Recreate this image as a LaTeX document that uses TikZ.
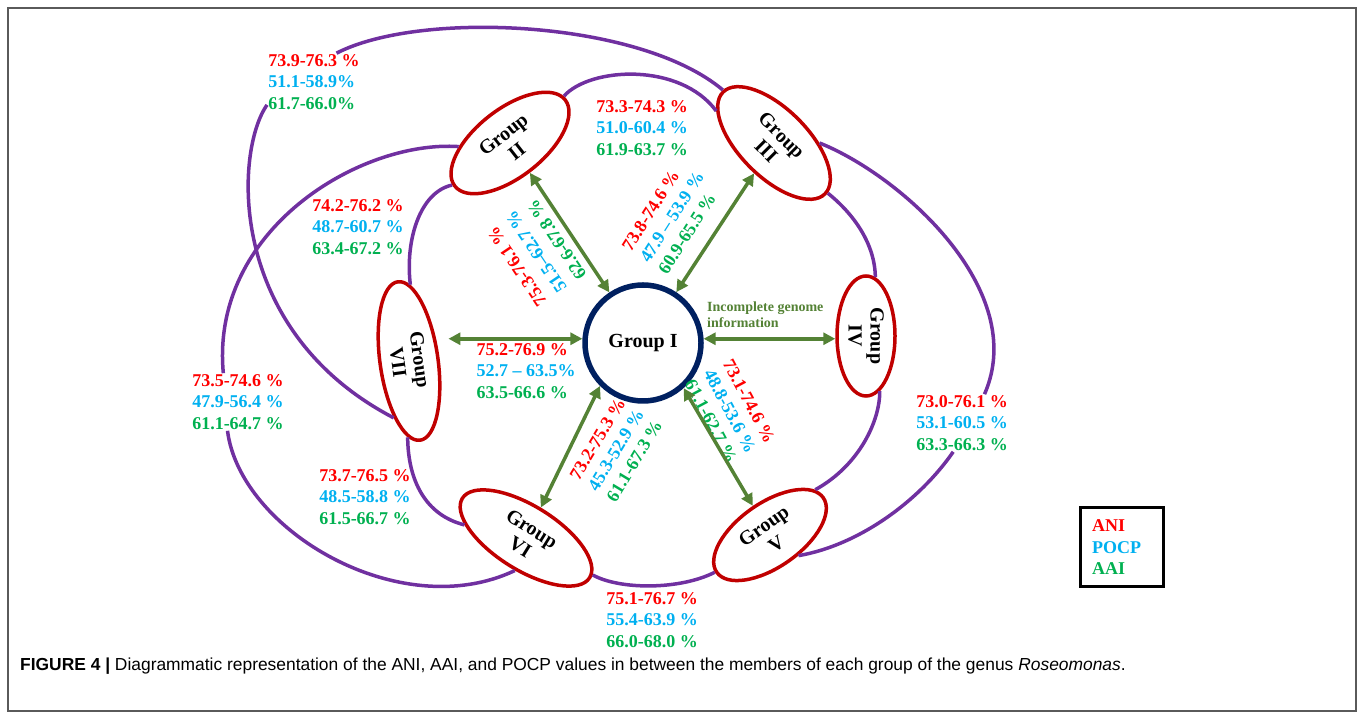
\documentclass[tikz,border=0pt]{standalone}
\usepackage{fontspec}
\setmainfont{Liberation Serif}
\newfontfamily\capfont{Liberation Sans}
\usetikzlibrary{shapes.geometric, arrows.meta}

\definecolor{aniColor}{RGB}{255,0,0}
\definecolor{pocpColor}{RGB}{0,176,240}
\definecolor{aaiColor}{RGB}{0,176,80}
\definecolor{linkColor}{RGB}{84,130,53}
\definecolor{groupColor}{RGB}{192,0,0}
\definecolor{arcColor}{RGB}{112,48,160}
\definecolor{centreColor}{RGB}{0,32,96}
\definecolor{frameColor}{RGB}{90,90,90}

\newcommand{\vals}[3]{\textcolor{aniColor}{#1}\\\textcolor{pocpColor}{#2}\\\textcolor{aaiColor}{#3}}

\tikzset{
  grp/.style={ellipse, draw=groupColor, line width=3.5pt, inner sep=1pt, align=center,
    font=\fontsize{20}{22}\selectfont\bfseries},
  valbox/.style={align=left, inner sep=1pt, font=\fontsize{18}{21.5}\selectfont\bfseries},
  greenlink/.style={draw=linkColor, line width=3.5pt,
    {Triangle[length=12pt,width=12pt]}-{Triangle[length=12pt,width=12pt]}},
  purplearc/.style={draw=arcColor, line width=3.5pt}
}

\begin{document}
\begin{tikzpicture}[x=1pt,y=1pt]
\path[use as bounding box] (0,0) rectangle (1358,712);
\draw[frameColor, line width=1.5pt] (8,1) rectangle (1356,704);

\node[circle, draw=centreColor, line width=5.5pt, minimum size=116pt, inner sep=0pt,
  font=\fontsize{20}{22}\selectfont\bfseries] (g1) at (643,369) {Group I};
\node[grp, rotate=38, minimum width=140pt, minimum height=68pt] (g2) at (510,569) {Group\\II};
\node[grp, rotate=-45, minimum width=144pt, minimum height=68pt] (g3) at (774,569) {Group\\III};
\node[grp, rotate=-90, minimum width=120pt, minimum height=58pt] (g4) at (866,376) {Group\\IV};
\node[grp, rotate=35, minimum width=130pt, minimum height=64pt] (g5) at (770,177) {Group\\V};
\node[grp, rotate=-32, minimum width=150pt, minimum height=64pt] (g6) at (526,174) {Group\\VI};
\node[grp, rotate=-82, minimum width=160pt, minimum height=58pt] (g7) at (409,351) {Group\\VII};

\node[valbox] (l23) at (642,584) {\vals{73.3-74.3 \%}{51.0-60.4 \%}{61.9-63.7 \%}};
\node[valbox] (l27) at (358,485) {\vals{74.2-76.2 \%}{48.7-60.7 \%}{63.4-67.2 \%}};
\node[valbox] (l37) at (314,630) {\vals{73.9-76.3 \%}{51.1-58.9\%}{61.7-66.0\%}};
\node[valbox] (l26) at (238,310) {\vals{73.5-74.6 \%}{47.9-56.4 \%}{61.1-64.7 \%}};
\node[valbox] (l67) at (365,215) {\vals{73.7-76.5 \%}{48.5-58.8 \%}{61.5-66.7 \%}};
\node[valbox] (l56) at (652,92) {\vals{75.1-76.7 \%}{55.4-63.9 \%}{66.0-68.0 \%}};
\node[valbox] (l35) at (962,289) {\vals{73.0-76.1 \%}{53.1-60.5 \%}{63.3-66.3 \%}};
\node[valbox] (l17) at (526,341) {\vals{75.2-76.9 \%}{52.7 -- 63.5\%}{63.5-66.6 \%}};
\node[valbox, rotate=124, font=\fontsize{18}{24}\selectfont\bfseries] (l12) at (536,460)
  {\vals{75.3-76.1 \%}{51.5--62.7 \%}{62.6-67.8 \%}};
\node[valbox, rotate=57.5] (l13) at (672,495) {\vals{73.8-74.6 \%}{47.9 -- 53.9 \%}{60.9-65.5 \%}};
\node[valbox, rotate=59] (l16) at (616,262) {\vals{73.2-75.3 \%}{45.3-52.9 \%}{61.1-67.3 \%}};
\node[valbox, rotate=-62] (l15) at (730,301) {\vals{73.1-74.6 \%}{48.8-53.6 \%}{61.1-62.7 \%}};

\node[anchor=west, align=left, inner sep=0pt, text=linkColor,
  font=\fontsize{14}{16}\selectfont\bfseries] (note) at (707,397) {Incomplete genome\\information};

\node[draw=black, line width=3pt, minimum width=83pt, minimum height=79pt, text width=59pt,
  align=left, inner sep=0pt, font=\fontsize{18}{21.5}\selectfont\bfseries] (key) at (1121.5,164.5)
  {\textcolor{aniColor}{ANI}\\\textcolor{pocpColor}{POCP}\\\textcolor{aaiColor}{AAI}};

\node[anchor=west, inner sep=0pt, font=\capfont\fontsize{17.4}{20}\selectfont] (caption) at (20,46)
  {\textbf{FIGURE 4 |} Diagrammatic representation of the ANI, AAI, and POCP values in between the members of each group of the genus \textit{Roseomonas}.};

\draw[greenlink] (g1) -- (g2);
\draw[greenlink] (g1) -- (g3);
\draw[greenlink] (g1.4) -- (g1.4 -| g4.south);
\draw[greenlink] (g1.176) -- ([xshift=9pt]g1.176 -| g7.north);
\draw[greenlink] (g1.225) -- (g6);
\draw[greenlink] (g1.312) -- (g5);

\draw[purplearc] (g2.3) .. controls (590,645) and (680,650) .. (g3.196);
\draw[purplearc] (g2.178) .. controls (420,520) and (405,472) .. (g7.171);
\draw[purplearc] (g3.179) .. controls (640,692) and (420,702) .. (l37.52);
\draw[purplearc] (l37.206) .. controls (235,562) and (225,382) .. (g7.337);
\draw[purplearc] (g2.146) .. controls (360,572) and (210,482) .. (l26.117);
\draw[purplearc] (l26.250) .. controls (240,182) and (400,87) .. (g6.283);
\draw[purplearc] (g7.351) .. controls (408,232) and (425,197) .. (g6.200);
\draw[purplearc] (g6.3) .. controls (620,122) and (680,122) .. (g5.179);
\draw[purplearc] (g3.45) .. controls (900,537) and (1030,422) .. (l35.52);
\draw[purplearc] (l35.253) .. controls (920,212) and (860,167) .. (g5.289);
\draw[purplearc] (g3.2) .. controls (855,497) and (875,467) .. (g4.171);
\draw[purplearc] (g4.14) .. controls (880,292) and (860,247) .. (g5.10);
\end{tikzpicture}
\end{document}
